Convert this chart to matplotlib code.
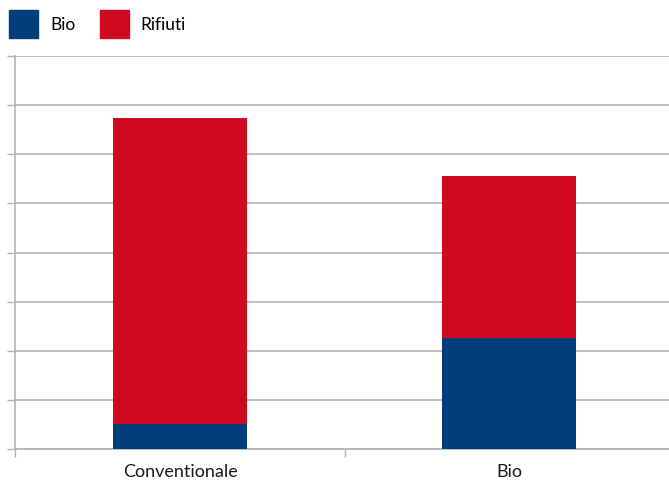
import matplotlib.pyplot as plt
from matplotlib.patches import Patch

categories = ["Conventionale", "Bio"]
bio = [0.51, 2.26]
rifiuti = [6.22, 3.30]

blue = "#003d7a"
red = "#cf0a20"
grey = "#b4b4b4"

plt.rcParams['font.family'] = ['Lato', 'DejaVu Sans']

dpi = 100
fig = plt.figure(figsize=(669 / dpi, 481 / dpi), dpi=dpi)
ax = fig.add_axes([15 / 669, 31 / 481, 654 / 669, 393 / 481])

x = range(len(categories))
ax.bar(x, bio, width=0.407, color=blue, zorder=3)
ax.bar(x, rifiuti, bottom=bio, width=0.407, color=red, zorder=3)

ax.set_xlim(-0.5015, 1.486)
ax.set_ylim(0, 8)

# gridlines + little left ticks, no numbers
ax.set_yticks(range(0, 9))
ax.set_yticklabels([])
ax.yaxis.grid(True, color=grey, linewidth=1.2, zorder=0)
ax.tick_params(axis='y', length=5.8, width=1, color=grey)

# category labels centred, separator ticks between them
ax.set_xticks(list(x))
ax.set_xticklabels(categories, fontsize=13, color="#1a1a1a")
ax.tick_params(axis='x', which='major', length=0, pad=10)
ax.set_xticks([-0.5, 0.5], minor=True)
ax.tick_params(axis='x', which='minor', length=5.8, width=1, color=grey)

for s in ['top', 'right']:
    ax.spines[s].set_visible(False)
ax.spines['left'].set_color(grey)
ax.spines['bottom'].set_color(grey)
ax.spines['left'].set_linewidth(1.2)
ax.spines['bottom'].set_linewidth(1.2)

handles = [Patch(color=blue, label="Bio"), Patch(color=red, label="Rifiuti")]
fig.legend(handles=handles, loc='upper left', bbox_to_anchor=(9 / 669, 1 - 11 / 481),
           ncol=2, frameon=False, fontsize=12.5, borderpad=0, borderaxespad=0,
           handlelength=1.67, handleheight=2.1, handletextpad=0.7,
           columnspacing=1.4)

fig.savefig("out.png", dpi=dpi)
